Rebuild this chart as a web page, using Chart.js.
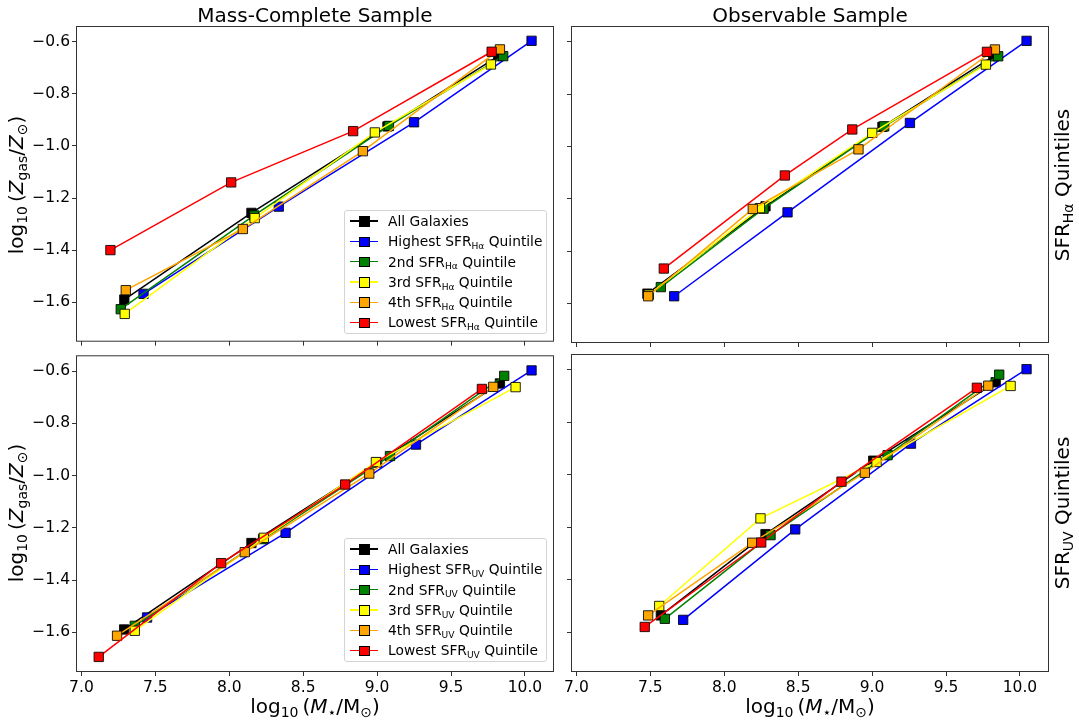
<!DOCTYPE html>
<html>
<head>
<meta charset="utf-8">
<script src="https://cdn.jsdelivr.net/npm/chart.js@4.4.0/dist/chart.umd.min.js"></script>
<style>
body { margin: 0; background: #fff; font-family: 'DejaVu Sans', sans-serif; }
#fig { position: relative; width: 1079px; height: 724px; overflow: hidden; }
#fig canvas { position: absolute; }
.txt { position: absolute; white-space: nowrap; color: #000; font-size: 20px; line-height: 20px; }
.title { transform: translateX(-50%); top: 5px; }
.rot { transform: translate(-50%, -50%) rotate(-90deg); }
.legend { position: absolute; width: 201px; border: 1px solid #d4d4d4; border-radius: 3px; background: rgba(255,255,255,0.8); font-size: 13.8px; }
.row { position: relative; height: 20.3px; }
.row .ln { position: absolute; left: 5px; width: 28px; top: 9.4px; height: 1.5px; }
.row .mk { position: absolute; left: 14px; top: 5.3px; width: 8.5px; height: 8.5px; border: 1px solid #000; }
.row .lb { position: absolute; left: 43px; top: 1px; white-space: nowrap; line-height: 18px; }
sub { font-size: 70%; vertical-align: baseline; position: relative; top: 0.3em; }
.legend sub { font-size: 66%; }
</style>
</head>
<body>
<div id="fig">
  <canvas id="tl" width="565" height="352" style="left:0;top:0"></canvas>
  <canvas id="tr" width="519" height="352" style="left:560px;top:0"></canvas>
  <canvas id="bl" width="565" height="379" style="left:0;top:345px"></canvas>
  <canvas id="br" width="519" height="379" style="left:560px;top:345px"></canvas>

  <div class="txt title" style="left:315px">Mass-Complete Sample</div>
  <div class="txt title" style="left:810px">Observable Sample</div>
  <div class="txt" style="left:315px;top:696px;transform:translateX(-50%)">log<sub>10</sub>&#8201;(<i>M</i><sub>⋆</sub>/M<sub>⊙</sub>)</div>
  <div class="txt" style="left:810px;top:696px;transform:translateX(-50%)">log<sub>10</sub>&#8201;(<i>M</i><sub>⋆</sub>/M<sub>⊙</sub>)</div>
  <div class="txt rot" style="left:17px;top:185px">log<sub>10</sub>&#8201;(<i>Z</i><sub>gas</sub>/<i>Z</i><sub>⊙</sub>)</div>
  <div class="txt rot" style="left:17px;top:513px">log<sub>10</sub>&#8201;(<i>Z</i><sub>gas</sub>/<i>Z</i><sub>⊙</sub>)</div>
  <div class="txt rot" style="left:1063px;top:185px">SFR<sub>Hα</sub> Quintiles</div>
  <div class="txt rot" style="left:1063px;top:513px">SFR<sub>UV</sub> Quintiles</div>

  <div class="legend" id="legTop" style="left:344px;top:210px"></div>
  <div class="legend" id="legBot" style="left:344px;top:538px"></div>
</div>

<script>
// tick positions shared by all four panels
const xTicks = [7.0, 7.5, 8.0, 8.5, 9.0, 9.5, 10.0];
const yTicks = [-0.6, -0.8, -1.0, -1.2, -1.4, -1.6];

// series order: All, Highest, 2nd, 3rd, 4th, Lowest
const seriesNames = ['All Galaxies', 'Highest', '2nd', '3rd', '4th', 'Lowest'];
const seriesColors = ['#000000', '#0000ff', '#008000', '#ffff00', '#ffa500', '#ff0000'];

// H-alpha quintiles, mass-complete sample
const haCompleteMass = [
  [7.29, 8.15, 9.07, 9.82],
  [7.42, 8.335, 9.25, 10.045],
  [7.266, 8.168, 9.08, 9.853],
  [7.293, 8.172, 8.985, 9.77],
  [7.30, 8.092, 8.904, 9.831],
  [7.196, 8.013, 8.838, 9.775]
];
const haCompleteZ = [
  [-1.59, -1.257, -0.925, -0.655],
  [-1.568, -1.233, -0.909, -0.596],
  [-1.627, -1.267, -0.923, -0.655],
  [-1.645, -1.277, -0.948, -0.687],
  [-1.554, -1.319, -1.020, -0.629],
  [-1.40, -1.14, -0.943, -0.638]
];

// H-alpha quintiles, observable sample
const haObsMass = [
  [7.48, 8.279, 9.07, 9.82],
  [7.661, 8.428, 9.256, 10.045],
  [7.571, 8.266, 9.082, 9.853],
  [7.49, 8.241, 9.001, 9.77],
  [7.485, 8.193, 8.908, 9.831],
  [7.591, 8.41, 8.866, 9.777]
];
const haObsZ = [
  [-1.563, -1.229, -0.925, -0.655],
  [-1.573, -1.252, -0.910, -0.596],
  [-1.538, -1.238, -0.923, -0.655],
  [-1.567, -1.236, -0.948, -0.687],
  [-1.573, -1.239, -1.011, -0.629],
  [-1.467, -1.111, -0.935, -0.638]
];

// UV quintiles, mass-complete sample
const uvCompleteMass = [
  [7.289, 8.15, 9.0, 9.831],
  [7.444, 8.381, 9.263, 10.045],
  [7.361, 8.229, 9.087, 9.86],
  [7.361, 8.234, 8.992, 9.937],
  [7.241, 8.105, 8.947, 9.786],
  [7.117, 7.945, 8.784, 9.709]
];
const uvCompleteZ = [
  [-1.589, -1.258, -0.95, -0.647],
  [-1.543, -1.219, -0.881, -0.597],
  [-1.575, -1.243, -0.925, -0.618],
  [-1.594, -1.238, -0.948, -0.661],
  [-1.613, -1.293, -0.992, -0.660],
  [-1.694, -1.335, -1.034, -0.668]
];

// UV quintiles, observable sample
const uvObsMass = [
  [7.571, 8.279, 9.008, 9.836],
  [7.722, 8.48, 9.263, 10.045],
  [7.598, 8.313, 9.105, 9.86],
  [7.56, 8.245, 9.03, 9.937],
  [7.485, 8.189, 8.951, 9.786],
  [7.462, 8.25, 8.793, 9.709]
];
const uvObsZ = [
  [-1.536, -1.226, -0.946, -0.647],
  [-1.553, -1.208, -0.881, -0.597],
  [-1.549, -1.230, -0.925, -0.618],
  [-1.50, -1.166, -0.951, -0.661],
  [-1.536, -1.259, -0.992, -0.660],
  [-1.58, -1.258, -1.026, -0.668]
];

const xMin = 6.97, xMax = 10.19;
const yMin = -1.748, yMax = -0.543;

const fontFamily = "'DejaVu Sans', sans-serif";

// box round the plot area, like matplotlib spines
const framePlugin = {
  id: 'frame',
  afterDraw(chart) {
    const a = chart.chartArea, c = chart.ctx;
    c.save();
    c.strokeStyle = '#333';
    c.lineWidth = 1;
    c.strokeRect(a.left - 0.5, a.top - 0.5, a.right - a.left + 1, a.bottom - a.top + 1);
    c.restore();
  }
};

function makePanel(id, masses, zs, left, bottom) {
  const datasets = seriesNames.map((name, i) => ({
    label: name,
    data: masses[i].map((m, j) => ({ x: m, y: zs[i][j] })),
    borderColor: seriesColors[i],
    backgroundColor: seriesColors[i],
    pointBackgroundColor: seriesColors[i],
    pointBorderColor: 'rgba(0,0,0,0.85)',
    pointBorderWidth: 1,
    pointStyle: 'rect',
    pointRadius: 6.6,
    borderWidth: 1.5,
    tension: 0,
    order: seriesNames.length - i
  }));

  new Chart(document.getElementById(id), {
    type: 'line',
    data: { datasets },
    options: {
      responsive: false,
      animation: false,
      events: [],
      layout: {
        padding: { top: bottom ? 10 : 27, right: left ? 12 : 31, left: 0, bottom: 0 }
      },
      plugins: { legend: { display: false }, tooltip: { enabled: false } },
      scales: {
        x: {
          type: 'linear', min: xMin, max: xMax,
          afterBuildTicks: s => { s.ticks = xTicks.map(v => ({ value: v })); },
          afterFit: s => { s.height = bottom ? 53 : 10; },
          ticks: {
            display: bottom, autoSkip: false, maxRotation: 0, padding: 3,
            color: '#000', font: { family: fontFamily, size: 15.5 },
            callback: v => v.toFixed(1)
          },
          grid: { display: true, drawOnChartArea: false, drawTicks: true, tickLength: 5, color: '#333' },
          border: { display: false }
        },
        y: {
          type: 'linear', min: yMin, max: yMax,
          afterBuildTicks: s => { s.ticks = yTicks.map(v => ({ value: v })); },
          afterFit: s => { s.width = left ? 77 : 12; },
          ticks: {
            display: left, autoSkip: false, padding: 2,
            color: '#000', font: { family: fontFamily, size: 15.5 },
            callback: v => (v < 0 ? '\u2212' : '') + Math.abs(v).toFixed(1)
          },
          grid: { display: true, drawOnChartArea: false, drawTicks: true, tickLength: 5, color: '#333' },
          border: { display: false }
        }
      }
    },
    plugins: [framePlugin]
  });
}

makePanel('tl', haCompleteMass, haCompleteZ, true, false);
makePanel('tr', haObsMass, haObsZ, false, false);
makePanel('bl', uvCompleteMass, uvCompleteZ, true, true);
makePanel('br', uvObsMass, uvObsZ, false, true);

// legends with subscripted SFR labels
function buildLegend(id, sub) {
  const box = document.getElementById(id);
  seriesNames.forEach((name, i) => {
    const text = i === 0 ? name : name + ' SFR<sub>' + sub + '</sub> Quintile';
    const row = document.createElement('div');
    row.className = 'row';
    row.innerHTML = '<div class="ln" style="background:' + seriesColors[i] + '"></div>' +
      '<div class="mk" style="background:' + seriesColors[i] + '"></div>' +
      '<div class="lb">' + text + '</div>';
    box.appendChild(row);
  });
}
buildLegend('legTop', 'Hα');
buildLegend('legBot', 'UV');
</script>
</body>
</html>
